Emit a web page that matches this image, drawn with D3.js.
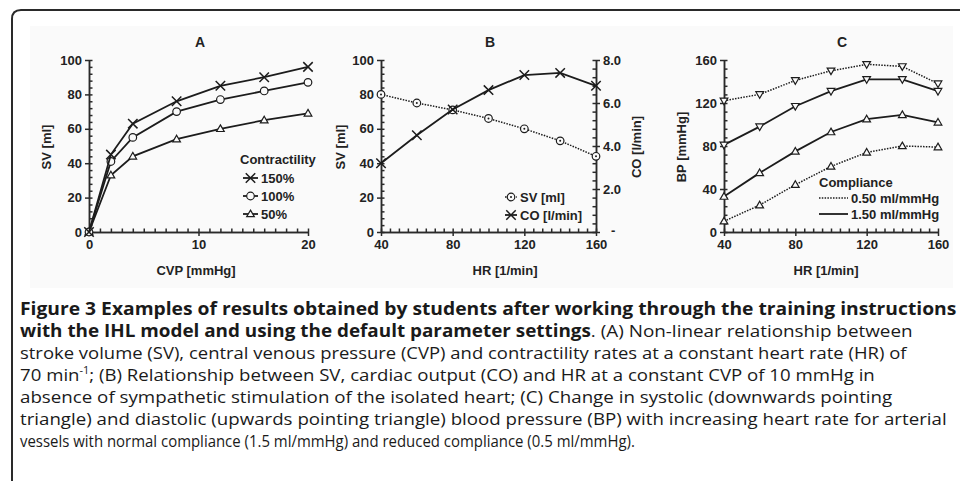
<!DOCTYPE html>
<html>
<head>
<meta charset="utf-8">
<script src="https://cdn.jsdelivr.net/npm/d3@7"></script>
<style>
  html, body { margin: 0; padding: 0; background: #fff; }
  svg { display: block; }
  .tick text { font-family: "Liberation Sans", Arial, sans-serif; font-weight: bold; font-size: 13px; fill: #222; }
  .axis path, .axis line { stroke: #2a2a2a; stroke-width: 1.5; }
  .lbl { font-family: "Liberation Sans", Arial, sans-serif; font-weight: bold; font-size: 12.5px; fill: #222; }
  .cap { font-family: "Open Sans", sans-serif; font-size: 17px; fill: #1a1a1a; }
</style>
</head>
<body>
<svg id="fig" width="960" height="481"></svg>
<script>
// ---- data ----
// Panel A: SV vs CVP for three contractility levels
const cvp = [0, 2, 4, 8, 12, 16, 20];
const sv150 = [0, 45, 63, 76, 85, 90, 96];
const sv100 = [0, 41, 55, 70, 77, 82, 87];
const sv50 = [0, 33, 44, 54, 60, 65, 69];
const contractLabels = ["150%", "100%", "50%"];

// Panel B: SV and CO vs HR
const hr = [40, 60, 80, 100, 120, 140, 160];
const svB = [80, 75, 71, 66, 60, 53, 44];
const coB = [3.2, 4.5, 5.7, 6.6, 7.3, 7.4, 6.8];
const legendB = ["SV [ml]", "CO [l/min]"];

// Panel C: systolic / diastolic BP vs HR for two compliances
const sys050 = [122, 128, 141, 150, 156, 154, 138];
const dia050 = [10, 25, 44, 61, 74, 80, 79];
const sys150 = [81, 98, 117, 131, 142, 142, 131];
const dia150 = [33, 55, 75, 93, 105, 109, 102];
const complianceLabels = ["0.50 ml/mmHg", "1.50 ml/mmHg"];

// ticks
const ticksA_x = [0, 10, 20];
const ticksA_y = [0, 20, 40, 60, 80, 100];
const ticksHR = [40, 80, 120, 160];
const ticksCO = [0, 2, 4, 6, 8];
const ticksCOLabels = ["-", "2.0", "4.0", "6.0", "8.0"];
const ticksBP = [0, 40, 80, 120, 160];

const captionLines = [
  [{t: "Figure 3 Examples of results obtained by students after working through the training instructions", b: true}],
  [{t: "with the IHL model and using the default parameter settings", b: true}, {t: ". (A) Non-linear relationship between"}],
  [{t: "stroke volume (SV), central venous pressure (CVP) and contractility rates at a constant heart rate (HR) of"}],
  [{t: "70 min"}, {t: "-1", sup: true}, {t: "; (B) Relationship between SV, cardiac output (CO) and HR at a constant CVP of 10 mmHg in"}],
  [{t: "absence of sympathetic stimulation of the isolated heart; (C) Change in systolic (downwards pointing"}],
  [{t: "triangle) and diastolic (upwards pointing triangle) blood pressure (BP) with increasing heart rate for arterial"}],
  [{t: "vessels with normal compliance (1.5 ml/mmHg) and reduced compliance (0.5 ml/mmHg)."}]
];
const captionWidths = [937, 893, 887, 855, 873, 927, 615];

// ---- layout ----
const svg = d3.select("#fig");
const bg = "#fafafa";
const ink = "#1c1c1c";

// frame
svg.append("path")
  .attr("d", "M12,481 V19 Q12,10 21,10 H961")
  .attr("fill", "none").attr("stroke", "#2a2a2a").attr("stroke-width", 2);
svg.append("rect").attr("x", 30).attr("y", 26).attr("width", 923).attr("height", 262).attr("fill", bg);

const y0 = 232, yTop = 60;

function range(a, b, s) { return d3.range(a, b + s / 2, s); }

function axisX(scale, majors, minorStep, fmt) {
  const d = scale.domain();
  const g = svg.append("g").attr("class", "axis");
  g.append("g").attr("transform", `translate(0,${y0})`)
    .call(d3.axisBottom(scale).tickValues(majors).tickSizeInner(4).tickSizeOuter(0).tickPadding(4).tickFormat(fmt || d3.format("d")));
  g.append("g").attr("transform", `translate(0,${y0})`)
    .call(d3.axisTop(scale).tickValues(range(d[0], d[1], minorStep)).tickSizeInner(3.5).tickSizeOuter(0).tickFormat(() => ""));
}

function axisY(scale, x, majors, minorStep, fmt, right) {
  const d = scale.domain();
  const g = svg.append("g").attr("class", "axis");
  const outer = right ? d3.axisRight : d3.axisLeft;
  const inner = right ? d3.axisLeft : d3.axisRight;
  g.append("g").attr("transform", `translate(${x},0)`)
    .call(outer(scale).tickValues(majors).tickSizeInner(4).tickSizeOuter(0).tickPadding(3).tickFormat(fmt || d3.format("d")));
  g.append("g").attr("transform", `translate(${x},0)`)
    .call(inner(scale).tickValues(range(d[0], d[1], minorStep)).tickSizeInner(3.5).tickSizeOuter(0).tickFormat(() => ""));
  return g;
}

const symTimes = d3.symbolTimes || d3.symbolX || d3.symbolCross;
const symTri = d3.symbolTriangle2 || d3.symbolTriangle;

function marker(g, kind, x, y) {
  if (kind === "x") {
    g.append("path").attr("d", d3.symbol().type(symTimes).size(60)())
      .attr("transform", `translate(${x},${y})`)
      .attr("fill", "none").attr("stroke", ink).attr("stroke-width", 1.5);
  } else if (kind === "o" || kind === "od") {
    g.append("circle").attr("cx", x).attr("cy", y).attr("r", 3.8)
      .attr("fill", bg).attr("stroke", ink).attr("stroke-width", 1.2);
    if (kind === "od") g.append("circle").attr("cx", x).attr("cy", y).attr("r", 1).attr("fill", ink);
  } else {
    const rot = kind === "down" ? 180 : 0;
    g.append("path").attr("d", d3.symbol().type(symTri).size(42)())
      .attr("transform", `translate(${x},${y + (kind === "down" ? -0.5 : 0.5)}) rotate(${rot})`)
      .attr("fill", bg).attr("stroke", ink).attr("stroke-width", 1.2);
  }
}

function series(xs, ys, sx, sy, kind, dotted) {
  const g = svg.append("g");
  const pts = xs.map((v, i) => [sx(v), sy(ys[i])]);
  g.append("path").attr("d", d3.line()(pts))
    .attr("fill", "none").attr("stroke", ink)
    .attr("stroke-width", dotted ? 1.5 : 1.8)
    .attr("stroke-dasharray", dotted ? "1.5,1.3" : null);
  pts.forEach(p => marker(g, kind, p[0], p[1]));
}

function text(x, y, s, opts = {}) {
  const t = svg.append("text").attr("class", "lbl").attr("x", x).attr("y", y).text(s)
    .attr("text-anchor", opts.anchor || "start");
  if (opts.rotate) t.attr("transform", `rotate(-90,${x},${y})`);
  if (opts.size) t.style("font-size", opts.size + "px");
  return t;
}

function legendItem(x1, x2, y, kind, dotted, label) {
  const g = svg.append("g");
  g.append("line").attr("x1", x1).attr("x2", x2).attr("y1", y).attr("y2", y)
    .attr("stroke", ink).attr("stroke-width", dotted ? 1.5 : 1.8)
    .attr("stroke-dasharray", dotted ? "1.5,1.3" : null);
  if (kind) marker(g, kind, (x1 + x2) / 2, y);
  text(x2 + 3, y + 4.5, label, {size: 13});
}

// ---- Panel A ----
const xA = d3.scaleLinear().domain([0, 20]).range([89, 308]);
const yA = d3.scaleLinear().domain([0, 100]).range([y0, yTop]);
axisX(xA, ticksA_x, 1);
axisY(yA, 89, ticksA_y, 4);
series(cvp, sv50, xA, yA, "up");
series(cvp, sv100, xA, yA, "o");
series(cvp, sv150, xA, yA, "x");
text(200, 47, "A", {anchor: "middle", size: 14});
text(51, 147, "SV [ml]", {anchor: "middle", rotate: true, size: 13});
text(196, 275, "CVP [mmHg]", {anchor: "middle", size: 13});
text(240, 164, "Contractility", {size: 13});
legendItem(243, 258, 178, "x", false, contractLabels[0]);
legendItem(243, 258, 196, "o", false, contractLabels[1]);
legendItem(243, 258, 214, "up", false, contractLabels[2]);

// ---- Panel B ----
const xB = d3.scaleLinear().domain([40, 160]).range([381, 596]);
const yB = d3.scaleLinear().domain([0, 100]).range([y0, yTop]);
const yB2 = d3.scaleLinear().domain([0, 8]).range([y0, yTop]);
axisX(xB, ticksHR, 5);
axisY(yB, 381, ticksA_y, 4);
const coAxis = axisY(yB2, 596, ticksCO, 0.4, (d, i) => ticksCOLabels[i], true);
// the zero label is a bare dash, set a little further out and clear of "160"
coAxis.selectAll(".tick text").filter(d => d === 0).attr("dx", 8).attr("dy", "0.2em");
series(hr, svB, xB, yB, "od", true);
series(hr, coB, xB, yB2, "x");
text(490, 47, "B", {anchor: "middle", size: 14});
text(345, 147, "SV [ml]", {anchor: "middle", rotate: true, size: 13});
text(641, 147, "CO [l/min]", {anchor: "middle", rotate: true, size: 13});
text(505, 275, "HR [1/min]", {anchor: "middle", size: 13});
legendItem(505, 517, 197, "od", true, legendB[0]);
legendItem(505, 517, 215, "x", false, legendB[1]);

// ---- Panel C ----
const xC = d3.scaleLinear().domain([40, 160]).range([724, 938]);
const yC = d3.scaleLinear().domain([0, 160]).range([y0, yTop]);
axisX(xC, ticksHR, 5);
axisY(yC, 724, ticksBP, 8);
series(hr, dia050, xC, yC, "up", true);
series(hr, sys050, xC, yC, "down", true);
series(hr, dia150, xC, yC, "up");
series(hr, sys150, xC, yC, "down");
text(842, 47, "C", {anchor: "middle", size: 14});
text(686, 147, "BP [mmHg]", {anchor: "middle", rotate: true, size: 13});
text(826, 275, "HR [1/min]", {anchor: "middle", size: 13});
text(819, 187, "Compliance", {size: 13});
legendItem(819, 848, 198, null, true, complianceLabels[0]);
legendItem(819, 848, 214, null, false, complianceLabels[1]);

// ---- caption ----
captionLines.forEach((parts, i) => {
  const t = svg.append("text").attr("class", "cap").attr("x", 0).attr("y", 0);
  parts.forEach(p => {
    const s = t.append("tspan").text(p.t);
    if (p.b) s.style("font-weight", "bold");
    if (p.sup) s.style("font-size", "10px").attr("baseline-shift", "super");
  });
  const w = t.node().getComputedTextLength();
  const by = 315 + i * 22;
  t.attr("transform", `translate(20,${by}) scale(${captionWidths[i] / w},1)`);
});
</script>
</body>
</html>
